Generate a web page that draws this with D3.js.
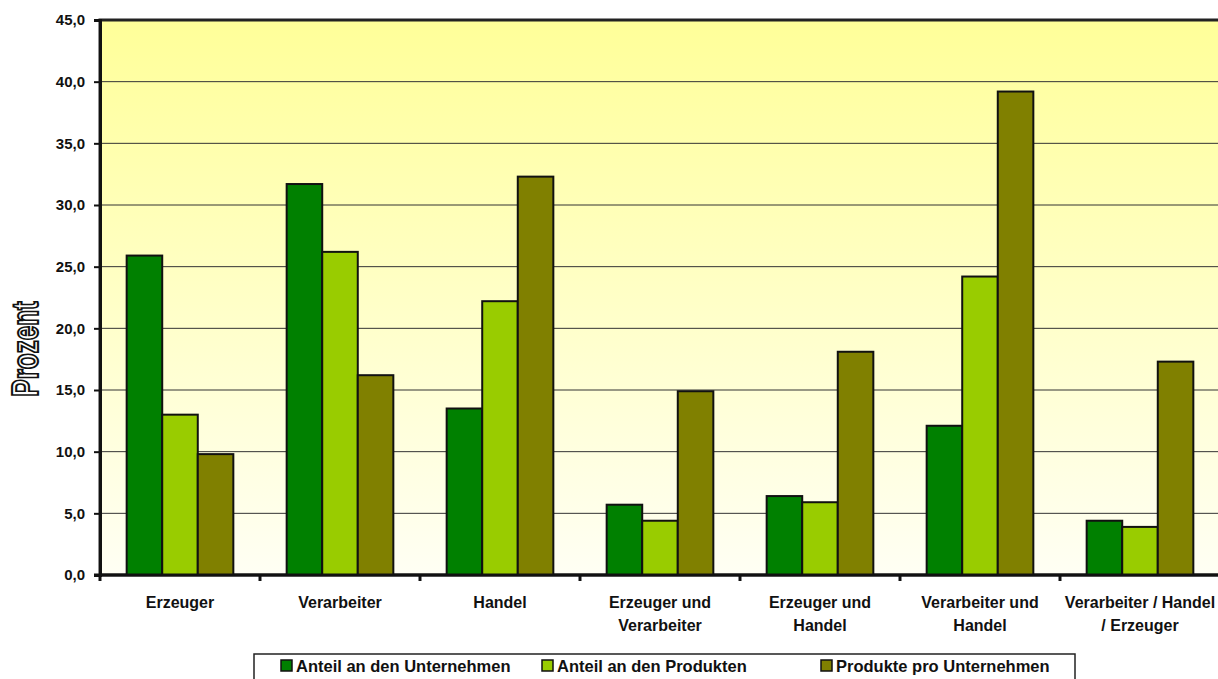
<!DOCTYPE html>
<html>
<head>
<meta charset="utf-8">
<script src="https://cdn.jsdelivr.net/npm/d3@7"></script>
<style>
  body { margin: 0; background: #fff; }
  svg { display: block; font-family: "Liberation Sans", Arial, sans-serif; font-weight: bold; }
</style>
</head>
<body>
<svg width="1218" height="679"></svg>
<script>
// data
var categories = [
    ["Erzeuger"],
    ["Verarbeiter"],
    ["Handel"],
    ["Erzeuger und", "Verarbeiter"],
    ["Erzeuger und", "Handel"],
    ["Verarbeiter und", "Handel"],
    ["Verarbeiter / Handel", "/ Erzeuger"]
];
var seriesNames = ["Anteil an den Unternehmen", "Anteil an den Produkten", "Produkte pro Unternehmen"];
var anteilUnternehmen = [25.9, 31.7, 13.5, 5.7, 6.4, 12.1, 4.4];
var anteilProdukte = [13.0, 26.2, 22.2, 4.4, 5.9, 24.2, 3.9];
var produkteProUnternehmen = [9.8, 16.2, 32.3, 14.9, 18.1, 39.2, 17.3];
var yTicks = [0, 5, 10, 15, 20, 25, 30, 35, 40, 45];
var colors = ["#008000", "#99CC00", "#808000"];

var series = [anteilUnternehmen, anteilProdukte, produkteProUnternehmen];

var svg = d3.select("svg");
var plotLeft = 100, plotRight = 1220, plotTop = 20, plotBottom = 575;

var defs = svg.append("defs");
var grad = defs.append("linearGradient")
    .attr("id", "bg")
    .attr("x1", 0).attr("y1", 0).attr("x2", 0).attr("y2", 1);
grad.append("stop").attr("offset", "0%").attr("stop-color", "#FFFF99");
grad.append("stop").attr("offset", "100%").attr("stop-color", "#FFFFF4");

var xScale = d3.scaleBand()
    .domain(d3.range(categories.length))
    .range([plotLeft, plotRight]);
var xInner = d3.scaleBand()
    .domain(d3.range(series.length))
    .range([0, xScale.bandwidth()])
    .paddingOuter(0.75);
var yScale = d3.scaleLinear().domain([0, 45]).range([plotBottom, plotTop]);

// plot area
svg.append("rect")
    .attr("x", plotLeft).attr("y", plotTop)
    .attr("width", plotRight - plotLeft).attr("height", plotBottom - plotTop)
    .attr("fill", "url(#bg)")
    .attr("stroke", "#222").attr("stroke-width", 3);

// gridlines
svg.append("g")
    .selectAll("line")
    .data(yTicks.filter(function (d) { return d > 0 && d < 45; }))
    .enter()
    .append("line")
    .attr("x1", plotLeft).attr("x2", plotRight)
    .attr("y1", function (d) { return yScale(d); })
    .attr("y2", function (d) { return yScale(d); })
    .attr("stroke", "#333").attr("stroke-width", 1);

// bars
series.forEach(function (vals, si) {
    svg.append("g")
        .selectAll("rect")
        .data(vals)
        .enter()
        .append("rect")
        .attr("x", function (d, i) { return xScale(i) + xInner(si); })
        .attr("y", function (d) { return yScale(d); })
        .attr("width", xInner.bandwidth())
        .attr("height", function (d) { return plotBottom - yScale(d); })
        .attr("fill", colors[si])
        .attr("stroke", "#111")
        .attr("stroke-width", 2);
});

// y axis
var yAxis = svg.append("g")
    .attr("transform", "translate(" + plotLeft + ",0)")
    .call(d3.axisLeft(yScale).tickValues(yTicks).tickSize(6).tickPadding(9)
        .tickFormat(function (d) { return d3.format(".1f")(d).replace(".", ","); }));
yAxis.select(".domain").attr("stroke", "#111").attr("stroke-width", 3);
yAxis.selectAll(".tick line").attr("stroke", "#111").attr("stroke-width", 2);
yAxis.selectAll("text").attr("font-size", 15).attr("fill", "#111")
    .attr("font-family", "Liberation Sans, Arial, sans-serif").attr("font-weight", "bold");

// x axis line and ticks
svg.append("line")
    .attr("x1", plotLeft - 6).attr("x2", plotRight)
    .attr("y1", plotBottom).attr("y2", plotBottom)
    .attr("stroke", "#111").attr("stroke-width", 3);
svg.append("g")
    .selectAll("line")
    .data(d3.range(categories.length))
    .enter()
    .append("line")
    .attr("x1", function (d) { return xScale(d); })
    .attr("x2", function (d) { return xScale(d); })
    .attr("y1", plotBottom).attr("y2", plotBottom + 6)
    .attr("stroke", "#111").attr("stroke-width", 3);

// category labels
var catLabels = svg.append("g")
    .selectAll("text")
    .data(categories)
    .enter()
    .append("text")
    .attr("x", function (d, i) { return xScale(i) + xScale.bandwidth() / 2; })
    .attr("y", 608)
    .attr("text-anchor", "middle")
    .attr("font-size", 16)
    .attr("fill", "#111");
catLabels.selectAll("tspan")
    .data(function (d) { return d; })
    .enter()
    .append("tspan")
    .attr("x", function () { return d3.select(this.parentNode).attr("x"); })
    .attr("dy", function (d, i) { return i === 0 ? 0 : 23; })
    .text(function (d) { return d; });

// y title
svg.append("text")
    .attr("text-anchor", "middle")
    .attr("font-size", 28)
    .attr("font-weight", "bold")
    .attr("fill", "#fff")
    .attr("stroke", "#111")
    .attr("stroke-width", 1.6)
    .attr("transform", "translate(38,349) rotate(-90) scale(0.93,1.3)")
    .text("Prozent");

// legend
svg.append("rect")
    .attr("x", 254).attr("y", 654)
    .attr("width", 821).attr("height", 40)
    .attr("fill", "#fff").attr("stroke", "#222").attr("stroke-width", 1.5);
var legendX = [281, 542, 821];
var legend = svg.append("g")
    .selectAll("g")
    .data(seriesNames)
    .enter()
    .append("g")
    .attr("transform", function (d, i) { return "translate(" + legendX[i] + ",660)"; });
legend.append("rect")
    .attr("width", 11).attr("height", 11)
    .attr("fill", function (d, i) { return colors[i]; })
    .attr("stroke", "#111").attr("stroke-width", 1.5);
legend.append("text")
    .attr("x", 15).attr("y", 12)
    .attr("font-size", 16.5)
    .attr("fill", "#111")
    .text(function (d) { return d; });
</script>
</body>
</html>
